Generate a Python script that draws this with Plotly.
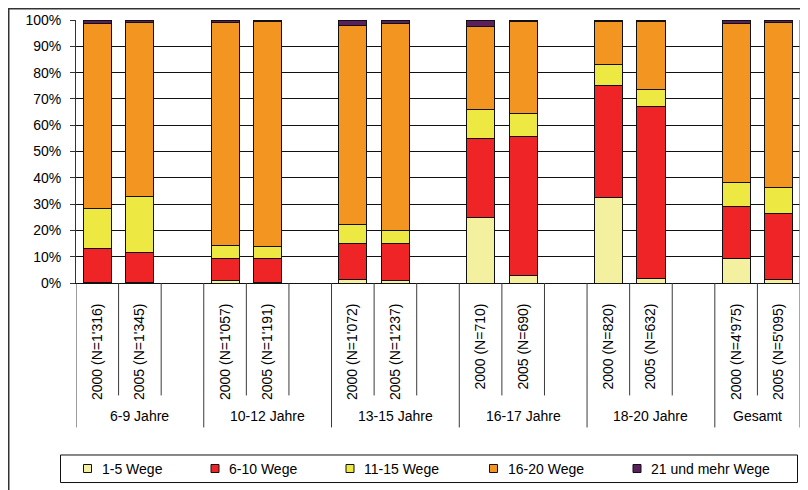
import plotly.graph_objects as go

groups = ["6-9 Jahre", "10-12 Jahre", "13-15 Jahre", "16-17 Jahre", "18-20 Jahre", "Gesamt"]
bar_labels = [
    "2000 (N=1'316)", "2005 (N=1'345)",
    "2000 (N=1'057)", "2005 (N=1'191)",
    "2000 (N=1'072)", "2005 (N=1'237)",
    "2000 (N=710)", "2005 (N=690)",
    "2000 (N=820)", "2005 (N=632)",
    "2000 (N=4'975)", "2005 (N=5'095)",
]
series_names = ["1-5 Wege", "6-10 Wege", "11-15 Wege", "16-20 Wege", "21 und mehr Wege"]
v_1_5 = [0.3, 0.3, 0.8, 0.3, 1.4, 0.8, 24.9, 2.9, 32.5, 1.9, 9.5, 1.3]
v_6_10 = [13.0, 11.3, 8.6, 9.1, 13.7, 14.3, 30.1, 52.9, 42.5, 65.4, 19.4, 25.1]
v_11_15 = [15.1, 21.4, 4.8, 4.3, 7.2, 5.0, 11.0, 8.5, 8.1, 6.3, 9.5, 9.8]
v_16_20 = [70.3, 66.2, 84.9, 85.9, 75.8, 78.6, 31.7, 35.3, 16.5, 26.0, 60.3, 62.9]
v_21 = [1.3, 0.8, 0.9, 0.4, 1.9, 1.3, 2.3, 0.4, 0.4, 0.4, 1.3, 0.9]
colors = ["#F3F0A0", "#EE2426", "#EEE842", "#F39621", "#5C1F5E"]

series = [v_1_5, v_6_10, v_11_15, v_16_20, v_21]

# each group has 3 slots (2000, 2005, gap); last group only 2
xpos = [g * 3 + k for g in range(len(groups)) for k in range(2)]
n_slots = 3 * (len(groups) - 1) + 2

FONT = "Liberation Sans, Arial, sans-serif"

fig = go.Figure()
for name, vals, col in zip(series_names, series, colors):
    fig.add_trace(go.Bar(
        x=xpos, y=vals, name=name, width=0.66, showlegend=False,
        marker=dict(color=col, line=dict(color="#111111", width=1)),
    ))

# page has an 8px body margin: figure is 800x482, window coords = figure coords + 8
OFF = 8
W, H = 808 - OFF, 490 - OFF
# plot-area geometry in window px
L, R, T, B = 76, 800, 20, 282.7
def ypx(px):
    return (B - px) / (B - T)
def xpx(px):
    return (px - L) / (R - L)

shapes = []
line_col = "#3a3a3a"
for g in range(len(groups)):
    start = g * 3 - 0.5
    shapes.append(dict(type="line", xref="x", yref="paper", x0=start, x1=start,
                       y0=0, y1=ypx(427), line=dict(color=line_col, width=1)))
    nslot = 3 if g < len(groups) - 1 else 2
    for k in range(1, nslot):
        xb = start + k
        shapes.append(dict(type="line", xref="x", yref="paper", x0=xb, x1=xb,
                           y0=0, y1=ypx(395), line=dict(color=line_col, width=1)))
# right edge line
shapes.append(dict(type="line", xref="x", yref="paper", x0=n_slots - 0.5, x1=n_slots - 0.5,
                   y0=1, y1=ypx(427), line=dict(color="#8a8a8a", width=1.5)))
# outer frame
shapes.append(dict(type="rect", xref="paper", yref="paper",
                   x0=xpx(OFF + 0.75), x1=1.2, y0=ypx(OFF + 0.75), y1=ypx(600),
                   line=dict(color="#333333", width=1.5), fillcolor="rgba(0,0,0,0)", layer="below"))

annotations = []
for g, name in enumerate(groups):
    cx = g * 3 + (1 if g < len(groups) - 1 else 0.5)
    annotations.append(dict(x=cx, y=ypx(416), xref="x", yref="paper", text=name,
                            showarrow=False, font=dict(family=FONT, size=14, color="black"),
                            xanchor="center", yanchor="middle"))

# legend (boxed row of square swatches + labels)
shapes.append(dict(type="rect", xref="paper", yref="paper",
                   x0=xpx(60.5), x1=xpx(797.5), y0=ypx(454.5), y1=ypx(482),
                   line=dict(color="#111111", width=1), fillcolor="white"))
legend_marker_px = [83.5, 211, 346, 489.5, 633]
for name, col, mx in zip(series_names, colors, legend_marker_px):
    shapes.append(dict(type="rect", xref="paper", yref="paper",
                       x0=xpx(mx), x1=xpx(mx + 8), y0=ypx(464), y1=ypx(472),
                       line=dict(color="#111111", width=1), fillcolor=col))
    annotations.append(dict(x=xpx(mx + 16), y=ypx(468), xref="paper", yref="paper",
                            text=name, showarrow=False, xanchor="left", yanchor="middle",
                            font=dict(family=FONT, size=14, color="black")))

fig.update_layout(
    width=W, height=H,
    margin=dict(l=L - OFF, r=W - (R - OFF), t=T - OFF, b=H - (B - OFF)),
    barmode="stack",
    plot_bgcolor="white", paper_bgcolor="white",
    font=dict(family=FONT, size=14, color="black"),
    shapes=shapes, annotations=annotations,
    showlegend=False,
    xaxis=dict(
        range=[-0.5, n_slots - 0.5], tickmode="array", tickvals=xpos, ticktext=bar_labels,
        tickangle=-90, ticks="", showgrid=False, zeroline=False, automargin=False,
        showline=True, linecolor="#111111", linewidth=1,
        tickfont=dict(family=FONT, size=14, color="black"), ticklabelstandoff=14,
    ),
    yaxis=dict(
        range=[0, 100], dtick=10, ticksuffix="%", ticks="outside", ticklen=5,
        tickcolor="#333333", showgrid=True, gridcolor="#111111", gridwidth=1,
        showline=True, linecolor="#333333", linewidth=1, zeroline=False, automargin=False,
        tickfont=dict(family=FONT, size=14, color="black"), ticklabelstandoff=6,
    ),
)

fig.write_html("out.html")
